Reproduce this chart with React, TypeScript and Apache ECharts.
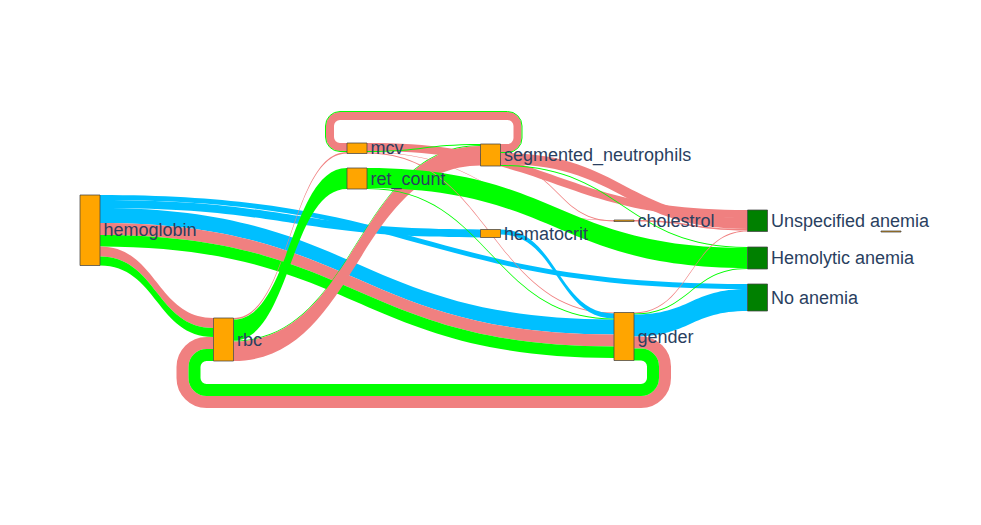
import React, { useEffect, useRef } from "react";
import * as echarts from "echarts";

// ---------- data ----------
const nodeNames = [
  "hemoglobin",
  "rbc",
  "mcv",
  "ret_count",
  "segmented_neutrophils",
  "hematocrit",
  "cholestrol",
  "gender",
  "Unspecified anemia",
  "Hemolytic anemia",
  "No anemia",
  "",
];
// column of each node (0 = left)
const nodeColumns = [0, 1, 2, 2, 3, 3, 4, 4, 5, 5, 5, 6];
// top of each node, in flow units from the top of the plot
const nodeTops = [190, 436, 86, 136, 88, 259, 240, 425, 220, 294, 368, 262];
const classNames = ["Unspecified anemia", "Hemolytic anemia", "No anemia"];

const linkSources = [
  "segmented_neutrophils", "segmented_neutrophils", "rbc", "rbc", "mcv", "mcv",
  "rbc", "rbc", "mcv", "segmented_neutrophils", "segmented_neutrophils", "segmented_neutrophils",
  "ret_count", "cholestrol", "gender", "gender", "mcv", "hematocrit", "ret_count",
  "hemoglobin", "hemoglobin", "hemoglobin", "hemoglobin", "hemoglobin", "hemoglobin", "hemoglobin",
  "gender", "gender", "gender",
];
const linkTargets = [
  "mcv", "mcv", "mcv", "ret_count", "Unspecified anemia", "segmented_neutrophils",
  "segmented_neutrophils", "segmented_neutrophils", "cholestrol", "Unspecified anemia", "cholestrol", "Hemolytic anemia",
  "Hemolytic anemia", "Unspecified anemia", "Unspecified anemia", "Hemolytic anemia", "gender", "gender", "gender",
  "No anemia", "hematocrit", "gender", "gender", "gender", "rbc", "rbc",
  "No anemia", "rbc", "rbc",
];
const linkValues = [
  16, 2, 3, 42, 16, 2,
  2, 39, 1, 22, 2, 2,
  40, 3, 2, 2, 2, 10, 2,
  10, 16, 30, 24, 23, 20, 18,
  44, 24, 24,
];
const linkClasses = [
  "Unspecified anemia", "Hemolytic anemia", "Unspecified anemia", "Hemolytic anemia", "Unspecified anemia", "Hemolytic anemia",
  "Hemolytic anemia", "Unspecified anemia", "Unspecified anemia", "Unspecified anemia", "Unspecified anemia", "Hemolytic anemia",
  "Hemolytic anemia", "Unspecified anemia", "Unspecified anemia", "Hemolytic anemia", "Unspecified anemia", "No anemia", "Hemolytic anemia",
  "No anemia", "No anemia", "No anemia", "Unspecified anemia", "Hemolytic anemia", "Unspecified anemia", "Hemolytic anemia",
  "No anemia", "Unspecified anemia", "Hemolytic anemia",
];

// ---------- style ----------
const CLASS_COLORS: Record<string, string> = {
  "Unspecified anemia": "#F08080",
  "Hemolytic anemia": "#00FF00",
  "No anemia": "#00BFFF",
};
const FEATURE_COLOR = "#FFA500";
const CLASS_NODE_COLOR = "#008000";
const NODE_W = 20;
const HGAP = 13;
const VGAP = 23;
const BASE_R = 6;
const Y_MAX = 690;
const X_MAX = 6;
const FONT = "'Liberation Sans', Arial, Helvetica, sans-serif";

const idx = (n: string) => nodeNames.indexOf(n);

function buildLayout(api: any) {
  const N = nodeNames.length;
  const L = linkValues.length;
  const inSum = new Array(N).fill(0);
  const outSum = new Array(N).fill(0);
  for (let k = 0; k < L; k++) {
    outSum[idx(linkSources[k])] += linkValues[k];
    inSum[idx(linkTargets[k])] += linkValues[k];
  }
  const o = api.coord([0, 0]);
  const unit = Math.abs(api.coord([0, 1])[1] - o[1]);
  const midY = api.coord([0, Y_MAX / 2])[1];
  const nodes = nodeNames.map((name, i) => {
    const p = api.coord([nodeColumns[i], nodeTops[i]]);
    const h = Math.max(inSum[i], outSum[i]) * unit;
    return { name, x0: p[0], x1: p[0] + NODE_W, y0: p[1], y1: p[1] + h, h };
  });
  const outOff = nodes.map((n) => n.y0);
  const inOff = nodes.map((n) => n.y0);
  const links = linkValues.map((v, k) => {
    const s = idx(linkSources[k]);
    const t = idx(linkTargets[k]);
    const w = v * unit;
    const sy = outOff[s] + w / 2;
    outOff[s] += w;
    const ty = inOff[t] + w / 2;
    inOff[t] += w;
    const circular = nodeColumns[t] <= nodeColumns[s];
    const avg = (nodes[s].y0 + nodes[s].y1 + nodes[t].y0 + nodes[t].y1) / 4;
    const type = avg < midY ? "top" : "bottom";
    return { s, t, w, sy, ty, circular, type, color: CLASS_COLORS[linkClasses[k]] };
  });
  return { nodes, links };
}

function linkPath(lay: any, k: number) {
  const { nodes, links } = lay;
  const lk = links[k];
  const S = nodes[lk.s];
  const T = nodes[lk.t];
  if (!lk.circular) {
    const x0 = S.x1;
    const x1 = T.x0;
    const xm = x0 + (x1 - x0) * 0.5;
    const y0a = lk.sy - lk.w / 2;
    const y0b = lk.sy + lk.w / 2;
    const y1a = lk.ty - lk.w / 2;
    const y1b = lk.ty + lk.w / 2;
    const d =
      `M${x0},${y0a}C${xm},${y0a} ${xm},${y1a} ${x1},${y1a}` +
      `L${x1},${y1b}C${xm},${y1b} ${xm},${y0b} ${x0},${y0b}Z`;
    return { type: "path", shape: { pathData: d }, style: { fill: lk.color, stroke: "none" } };
  }
  const bottom = lk.type === "bottom";
  // inner links: for bottom loops those lying below, for top loops those above
  let offS = 0;
  let offT = 0;
  links.forEach((o: any) => {
    if (o === lk || !o.circular || o.type !== lk.type) return;
    if (o.s === lk.s && (bottom ? o.sy > lk.sy : o.sy < lk.sy)) offS += o.w;
    if (o.t === lk.t && (bottom ? o.ty > lk.ty : o.ty < lk.ty)) offT += o.w;
  });
  const sx = S.x1;
  const tx = T.x0;
  const xr = sx + HGAP + offS + lk.w / 2;
  const xl = tx - HGAP - offT - lk.w / 2;
  const Rs = BASE_R + offS + lk.w / 2;
  const Rt = BASE_R + offT + lk.w / 2;
  let d: string;
  if (bottom) {
    const ext = Math.max(S.y1, T.y1);
    const lvl = ext + VGAP + offS + lk.w / 2;
    d =
      `M${sx},${lk.sy}L${xr - Rs},${lk.sy}A${Rs},${Rs} 0 0 1 ${xr},${lk.sy + Rs}` +
      `L${xr},${lvl - Rs}A${Rs},${Rs} 0 0 1 ${xr - Rs},${lvl}` +
      `L${xl + Rt},${lvl}A${Rt},${Rt} 0 0 1 ${xl},${lvl - Rt}` +
      `L${xl},${lk.ty + Rt}A${Rt},${Rt} 0 0 1 ${xl + Rt},${lk.ty}L${tx},${lk.ty}`;
  } else {
    const ext = Math.min(S.y0, T.y0);
    const lvl = ext - VGAP - offS - lk.w / 2;
    d =
      `M${sx},${lk.sy}L${xr - Rs},${lk.sy}A${Rs},${Rs} 0 0 0 ${xr},${lk.sy - Rs}` +
      `L${xr},${lvl + Rs}A${Rs},${Rs} 0 0 0 ${xr - Rs},${lvl}` +
      `L${xl + Rt},${lvl}A${Rt},${Rt} 0 0 0 ${xl},${lvl + Rt}` +
      `L${xl},${lk.ty - Rt}A${Rt},${Rt} 0 0 0 ${xl + Rt},${lk.ty}L${tx},${lk.ty}`;
  }
  return {
    type: "path",
    shape: { pathData: d },
    style: { fill: "none", stroke: lk.color, lineWidth: lk.w },
  };
}

export default function App() {
  const ref = useRef<HTMLDivElement>(null);
  useEffect(() => {
    if (!ref.current) return;
    const chart = echarts.init(ref.current, null, { renderer: "svg" });
    const L = linkValues.length;
    // draw order: links grouped by source column (left columns first)
    const drawOrder = linkValues
      .map((_, k) => k)
      .sort((a, b) => nodeColumns[idx(linkSources[a])] - nodeColumns[idx(linkSources[b])] || a - b);
    const data: number[][] = [];
    drawOrder.forEach(() => data.push([0, 0]));
    nodeNames.forEach((_, i) => data.push([nodeColumns[i], nodeTops[i]]));

    chart.setOption({
      animation: false,
      backgroundColor: "#ffffff",
      grid: { left: 80, right: 100, top: 100, bottom: 80 },
      xAxis: { type: "value", min: 0, max: X_MAX, show: false },
      yAxis: { type: "value", min: 0, max: Y_MAX, inverse: true, show: false },
      series: [
        {
          type: "custom",
          coordinateSystem: "cartesian2d",
          silent: true,
          clip: false,
          data,
          renderItem: (params: any, api: any) => {
            const lay = buildLayout(api);
            const i = params.dataIndex;
            if (i < L) return linkPath(lay, drawOrder[i]);
            const ni = i - L;
            const n = lay.nodes[ni];
            const isClass = classNames.indexOf(n.name) >= 0;
            const h = Math.max(n.h, 1);
            const children: any[] = [
              {
                type: "rect",
                shape: { x: n.x0, y: n.y0, width: NODE_W, height: h },
                style: {
                  fill: isClass ? CLASS_NODE_COLOR : FEATURE_COLOR,
                  stroke: "rgba(68,68,68,0.75)",
                  lineWidth: 1,
                },
              },
            ];
            if (n.name) {
              children.push({
                type: "text",
                x: n.x1 + 3.5,
                y: n.y0 + h / 2,
                style: {
                  text: n.name,
                  fill: "#2a3f5f",
                  fontSize: 18,
                  fontFamily: FONT,
                  align: "left",
                  verticalAlign: "middle",
                },
              });
            }
            return { type: "group", children };
          },
        },
      ],
    });
    return () => chart.dispose();
  }, []);
  return (
    <div
      ref={ref}
      style={{ position: "fixed", left: 0, top: 0, width: 981, height: 525, background: "#fff" }}
    />
  );
}
